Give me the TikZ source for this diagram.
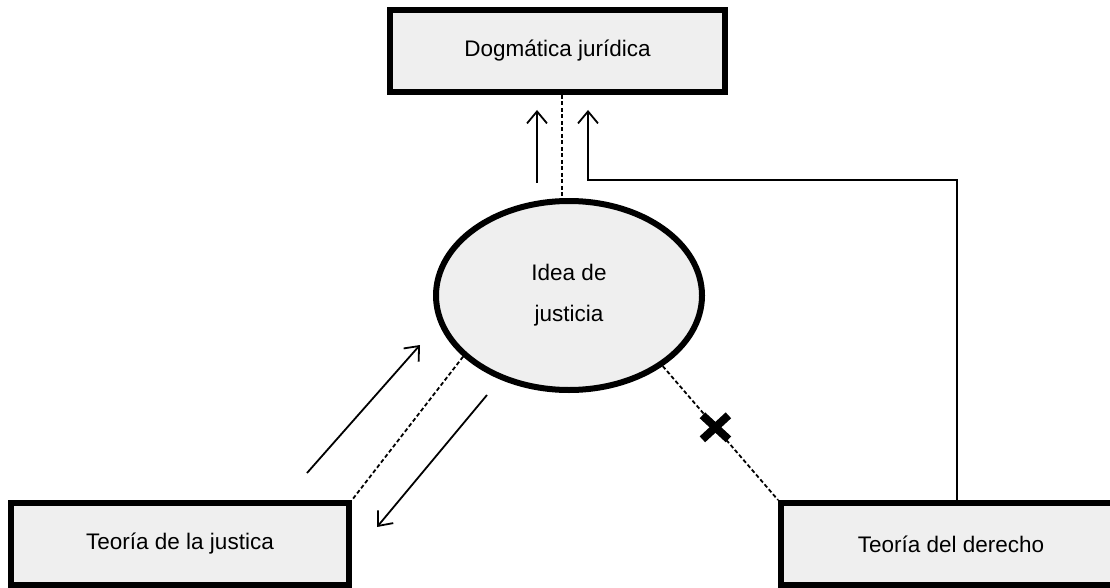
\documentclass[tikz,border=0pt]{standalone}
\usepackage{fontspec}
\setmainfont{Liberation Sans}
\usetikzlibrary{shapes.geometric,arrows.meta,calc}
\definecolor{boxfill}{HTML}{EFEFEF}
\begin{document}
\begin{tikzpicture}[x=1pt,y=-1pt,
  box/.style={draw=black,line width=6pt,fill=boxfill,minimum width=335pt,minimum height=82pt,inner sep=0pt,font=\fontsize{22.5}{26}\selectfont},
  ideanode/.style={ellipse,draw=black,line width=6pt,fill=boxfill,minimum width=266pt,minimum height=189pt,inner sep=0pt,align=center,font=\fontsize{22.5}{38}\selectfont},
  dashline/.style={line width=1.8pt,dash pattern=on 4pt off 2.5pt},
  arr/.style={line width=1.8pt,-{Straight Barb[length=12pt,width=20pt,line width=1.8pt]}},
  crossline/.style={line width=8pt}]
\useasboundingbox (0,0) rectangle (1110,588);
\node[box] (dog) at (557.5,51) {Dogmática jurídica};
\node[box,minimum width=338pt] (just) at (180,544) {Teoría de la justica};
\node[box,minimum width=340pt] (der) at (951,544) {Teoría del derecho};
\node[ideanode] (ell) at (569,295.5) {\raisebox{3pt}{Idea de}\\justicia};
% top dashed connector
\coordinate (d0) at ($(dog.south)+(4.5,0)$);
\draw[dashline] (d0) -- (d0 |- ell.north);
% up arrow beside it
\coordinate (u0) at (537,183);
\coordinate (u1) at (537,110);
\draw[arr] (u0) -- (u1);
% from Teoria del derecho to Dogmatica
\coordinate (r0) at ($(der.north)+(6,0)$);
\coordinate (r1) at (588,180);
\coordinate (r2) at (588,110);
\draw[arr] (r0) |- (r1) -- (r2);
% left dashed
\draw[dashline] (ell.210) -- (just.north east);
\coordinate (la0) at (307,473);
\coordinate (la1) at (420,345);
\draw[arr] (la0) -- (la1);
\coordinate (lb0) at (487,395);
\coordinate (lb1) at (377,527);
\draw[arr] (lb0) -- (lb1);
% right dashed with cross
\draw[dashline] (ell.-37) -- (der.north west) coordinate[pos=0.457] (xm);
\draw[crossline] ($(xm)+(-13,-12)$) -- ($(xm)+(13,12)$);
\draw[crossline] ($(xm)+(-13,12)$) -- ($(xm)+(13,-12)$);
\end{tikzpicture}
\end{document}
